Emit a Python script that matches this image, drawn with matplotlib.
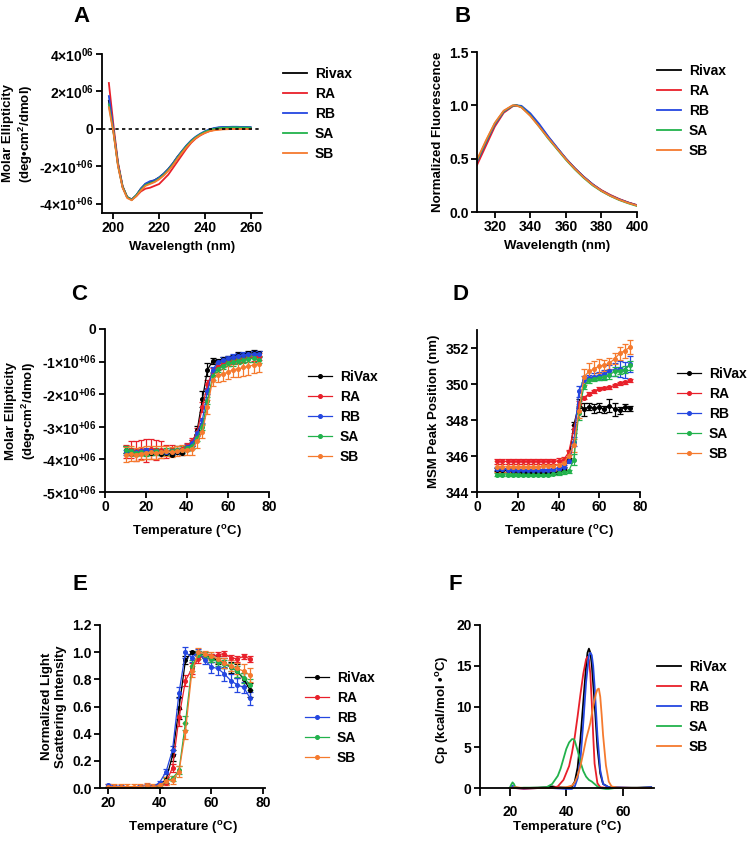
import numpy as np
import matplotlib
matplotlib.use("Agg")
import matplotlib.pyplot as plt

plt.rcParams['font.family'] = ['Liberation Sans', 'DejaVu Sans']
plt.rcParams['font.weight'] = 'bold'
plt.rcParams['axes.labelweight'] = 'bold'
plt.rcParams['mathtext.fontset'] = 'custom'
plt.rcParams['mathtext.rm'] = 'Liberation Sans:bold'
plt.rcParams['mathtext.it'] = 'Liberation Sans:bold'
plt.rcParams['mathtext.bf'] = 'Liberation Sans:bold'
plt.rcParams['mathtext.default'] = 'rm'

# colours of the five constructs
names_cd = ['Rivax', 'RA', 'RB', 'SA', 'SB']
names = ['RiVax', 'RA', 'RB', 'SA', 'SB']
colors = ['#000000', '#e8202a', '#2447e0', '#22b24c', '#f57a2e']

# ---- A: far-UV CD spectra (x1e6 deg cm2/dmol)
wl_a = np.arange(198, 261, 2)
cd_rivax = [1.5, -0.1, -1.9, -3.1, -3.65, -3.78, -3.55, -3.2, -2.95, -2.85, -2.75, -2.6, -2.4, -2.15, -1.85, -1.5,
            -1.2, -0.9, -0.65, -0.45, -0.3, -0.17, -0.06, 0.02, 0.06, 0.08, 0.08, 0.1, 0.09, 0.08, 0.08, 0.07]
cd_ra = [2.45, 0.2, -1.8, -3.05, -3.65, -3.78, -3.6, -3.35, -3.2, -3.15, -3.05, -2.95, -2.7, -2.45, -2.1, -1.75,
         -1.4, -1.05, -0.75, -0.52, -0.35, -0.22, -0.12, -0.06, -0.03, -0.01, 0.0, 0.0, 0.01, 0.01, 0.0, 0.0]
cd_rb = [1.75, -0.05, -1.9, -3.1, -3.65, -3.78, -3.55, -3.2, -2.93, -2.8, -2.75, -2.6, -2.4, -2.15, -1.85, -1.5,
         -1.18, -0.88, -0.62, -0.42, -0.26, -0.13, -0.03, 0.04, 0.08, 0.1, 0.1, 0.11, 0.11, 0.1, 0.1, 0.09]
cd_sa = [1.3, -0.15, -1.95, -3.1, -3.65, -3.8, -3.55, -3.25, -3.0, -2.9, -2.82, -2.65, -2.45, -2.2, -1.9, -1.55,
         -1.22, -0.92, -0.66, -0.45, -0.29, -0.16, -0.07, 0.0, 0.04, 0.06, 0.07, 0.08, 0.08, 0.07, 0.07, 0.06]
cd_sb = [1.15, -0.2, -2.0, -3.15, -3.7, -3.82, -3.6, -3.3, -3.05, -2.95, -2.85, -2.7, -2.5, -2.25, -1.95, -1.6,
         -1.28, -0.98, -0.72, -0.5, -0.34, -0.22, -0.13, -0.08, -0.05, -0.03, -0.02, -0.01, -0.01, -0.01, -0.01, -0.01]

# ---- B: intrinsic fluorescence
wl_b = [310, 315, 320, 325, 330, 332, 335, 340, 345, 350, 355, 360, 365, 370, 375, 380, 385, 390, 395, 400]
fl_rivax = [0.47, 0.65, 0.82, 0.94, 0.995, 1.0, 0.985, 0.91, 0.81, 0.70, 0.60, 0.50, 0.41, 0.33, 0.26, 0.20, 0.155, 0.118, 0.088, 0.062]
fl_ra = [0.44, 0.62, 0.80, 0.93, 0.99, 1.0, 0.99, 0.915, 0.815, 0.705, 0.60, 0.50, 0.41, 0.33, 0.26, 0.205, 0.16, 0.122, 0.09, 0.065]
fl_rb = [0.47, 0.65, 0.82, 0.94, 0.995, 1.0, 0.995, 0.925, 0.825, 0.71, 0.605, 0.50, 0.41, 0.33, 0.26, 0.20, 0.155, 0.118, 0.088, 0.062]
fl_sa = [0.48, 0.66, 0.83, 0.945, 0.997, 1.0, 0.985, 0.905, 0.80, 0.69, 0.59, 0.49, 0.40, 0.32, 0.25, 0.195, 0.15, 0.112, 0.082, 0.056]
fl_sb = [0.49, 0.67, 0.835, 0.95, 1.0, 0.998, 0.98, 0.90, 0.80, 0.695, 0.595, 0.495, 0.405, 0.325, 0.255, 0.198, 0.152, 0.115, 0.085, 0.06]

# ---- C: CD thermal melt at 222 nm (x1e6)
temp_c = np.arange(10, 75.1, 2.5)
me_rivax = [-3.70, -3.82, -3.78, -3.80, -3.78, -3.80, -3.78, -3.82, -3.80, -3.85, -3.78, -3.80, -3.65, -3.50,
            -3.10, -2.15, -1.25, -0.98, -0.97, -0.92, -0.88, -0.85, -0.80, -0.80, -0.75, -0.73, -0.75]
me_ra = [-3.75, -3.70, -3.75, -3.70, -3.72, -3.68, -3.72, -3.70, -3.75, -3.72, -3.70, -3.68, -3.60, -3.45,
         -3.15, -2.40, -1.70, -1.30, -1.15, -1.08, -1.02, -0.98, -0.95, -0.92, -0.90, -0.87, -0.85]
me_rb = [-3.78, -3.75, -3.78, -3.75, -3.72, -3.75, -3.75, -3.78, -3.78, -3.75, -3.75, -3.72, -3.62, -3.50,
         -3.20, -2.80, -1.90, -1.25, -1.02, -0.95, -0.90, -0.85, -0.82, -0.80, -0.78, -0.77, -0.77]
me_sa = [-3.70, -3.75, -3.80, -3.78, -3.80, -3.78, -3.75, -3.78, -3.75, -3.75, -3.70, -3.70, -3.65, -3.58,
         -3.35, -3.00, -2.20, -1.45, -1.22, -1.12, -1.05, -1.02, -0.98, -0.95, -0.92, -0.90, -0.95]
me_sb = [-3.85, -3.82, -3.85, -3.82, -3.80, -3.78, -3.80, -3.78, -3.75, -3.78, -3.75, -3.72, -3.70, -3.68,
         -3.45, -3.15, -2.40, -1.55, -1.42, -1.38, -1.32, -1.25, -1.22, -1.18, -1.15, -1.10, -1.08]
me_err_rivax = [0.1, 0.06, 0.06, 0.06, 0.05, 0.05, 0.06, 0.05, 0.05, 0.05, 0.06, 0.06, 0.06, 0.08,
                0.12, 0.25, 0.2, 0.08, 0.06, 0.06, 0.06, 0.06, 0.08, 0.06, 0.08, 0.08, 0.08]
me_err_ra = [0.2, 0.25, 0.3, 0.3, 0.35, 0.3, 0.3, 0.25, 0.2, 0.15, 0.1, 0.1, 0.1, 0.1,
             0.1, 0.15, 0.15, 0.1, 0.1, 0.1, 0.1, 0.1, 0.1, 0.1, 0.1, 0.1, 0.1]
me_err_rb = [0.08] * 27
me_err_sa = [0.1] * 27
me_err_sb = [0.22, 0.22, 0.2, 0.2, 0.2, 0.2, 0.2, 0.18, 0.15, 0.15, 0.15, 0.15, 0.15, 0.18,
             0.2, 0.2, 0.22, 0.2, 0.2, 0.22, 0.22, 0.22, 0.25, 0.25, 0.25, 0.25, 0.25]

# ---- D: MSM peak position (nm)
temp_d = np.arange(10, 75.1, 2.5)
pk_rivax = [345.25, 345.22, 345.2, 345.18, 345.15, 345.12, 345.1, 345.08, 345.05, 345.05, 345.05, 345.08, 345.1, 345.3,
            345.8, 347.7, 348.9, 348.6, 348.75, 348.65, 348.7, 348.6, 348.8, 348.6, 348.55, 348.7, 348.65]
pk_ra = [345.7, 345.7, 345.7, 345.7, 345.7, 345.7, 345.7, 345.7, 345.7, 345.7, 345.7, 345.7, 345.72, 345.8,
         346.2, 347.5, 348.9, 349.25, 349.45, 349.6, 349.75, 349.78, 349.82, 349.92, 350.05, 350.1, 350.2]
pk_rb = [345.3, 345.28, 345.25, 345.25, 345.22, 345.22, 345.2, 345.2, 345.2, 345.2, 345.22, 345.25, 345.3, 345.4,
         345.7, 346.8, 349.6, 350.25, 350.35, 350.4, 350.45, 350.55, 350.75, 350.8, 350.85, 350.8, 351.1]
pk_sa = [344.95, 344.95, 344.95, 344.95, 344.95, 344.95, 344.95, 344.95, 344.95, 344.95, 344.95, 345.0, 345.05, 345.1,
         345.15, 345.8, 348.4, 349.9, 350.2, 350.3, 350.35, 350.4, 350.5, 350.7, 350.75, 350.8, 351.05]
pk_sb = [345.4, 345.4, 345.4, 345.4, 345.4, 345.4, 345.4, 345.4, 345.4, 345.42, 345.45, 345.45, 345.5, 345.6,
         346.0, 346.6, 348.5, 350.4, 350.7, 350.85, 351.0, 351.05, 351.15, 351.4, 351.7, 351.85, 352.05]
pk_err_rivax = [0.1] * 15 + [0.2, 0.25, 0.35, 0.2, 0.25, 0.25, 0.2, 0.35, 0.35, 0.2, 0.2, 0.15]
pk_err_ra = [0.15] * 15 + [0.2, 0.15, 0.1, 0.08, 0.08, 0.08, 0.08, 0.08, 0.08, 0.08, 0.08, 0.1]
pk_err_rb = [0.08] * 15 + [0.25, 0.3, 0.2, 0.15, 0.2, 0.2, 0.25, 0.3, 0.35, 0.45, 0.45, 0.45]
pk_err_sa = [0.08] * 15 + [0.3, 0.4, 0.2, 0.15, 0.15, 0.15, 0.2, 0.2, 0.25, 0.2, 0.2, 0.25]
pk_err_sb = [0.3] * 15 + [0.35, 0.4, 0.45, 0.45, 0.45, 0.4, 0.3, 0.3, 0.3, 0.35, 0.4, 0.4]

# ---- E: static light scattering
temp_e = np.arange(20, 75.1, 2.5)
ls_rivax = [0, 0, 0, 0, 0, 0, 0, 0.01, 0.02, 0.06, 0.24, 0.59, 0.94, 1.0, 0.99, 0.98, 0.96, 0.94, 0.92, 0.89, 0.86, 0.80, 0.72]
ls_ra = [0, 0, 0, 0, 0, 0, 0, 0.01, 0.01, 0.04, 0.15, 0.52, 0.79, 0.88, 0.95, 0.98, 0.97, 0.98, 0.99, 0.96, 0.95, 0.97, 0.95]
ls_rb = [0.02, 0.01, 0.01, 0, 0, 0.01, 0.02, 0.01, 0.04, 0.12, 0.28, 0.70, 1.0, 0.96, 1.0, 0.94, 0.89, 0.88, 0.84, 0.79, 0.76, 0.74, 0.66]
ls_sa = [0, 0, 0, 0, 0, 0, 0, 0, 0.01, 0.05, 0.07, 0.13, 0.48, 0.90, 0.98, 0.98, 0.95, 0.93, 0.91, 0.89, 0.86, 0.81, 0.76]
ls_sb = [0.01, 0.01, 0.01, 0.01, 0.01, 0.01, 0.02, 0.01, 0.02, 0.05, 0.06, 0.12, 0.42, 0.86, 1.0, 0.99, 0.97, 0.95, 0.92, 0.90, 0.88, 0.86, 0.83]
ls_err_rivax = [0.01] * 9 + [0.02, 0.04, 0.08, 0.03, 0.01, 0.02, 0.02, 0.03, 0.03, 0.04, 0.04, 0.05, 0.05, 0.05]
ls_err_ra = [0.01] * 9 + [0.02, 0.03, 0.06, 0.04, 0.04, 0.03, 0.02, 0.02, 0.02, 0.02, 0.02, 0.02, 0.02, 0.02]
ls_err_rb = [0.01] * 9 + [0.02, 0.03, 0.04, 0.04, 0.03, 0.02, 0.03, 0.04, 0.05, 0.05, 0.05, 0.05, 0.04, 0.05]
ls_err_sa = [0.01] * 9 + [0.02, 0.02, 0.03, 0.05, 0.04, 0.03, 0.02, 0.02, 0.03, 0.03, 0.03, 0.04, 0.04, 0.04]
ls_err_sb = [0.02] * 9 + [0.03, 0.03, 0.04, 0.06, 0.04, 0.03, 0.02, 0.03, 0.03, 0.04, 0.04, 0.04, 0.05, 0.05]

# ---- F: DSC thermograms (kcal/mol/degC)
t_rivax = [20, 21, 22, 25, 30, 33, 35, 37, 40, 42, 43, 44, 45, 46, 47, 47.5, 48, 48.5, 49, 50, 51, 52, 53, 55, 60, 65, 70]
cp_rivax = [0, 0.2, 0.05, 0, 0.05, 0.1, 0.2, 0.1, 0.05, 0.2, 0.8, 2.5, 6.0, 10.5, 15.0, 16.6, 17.1, 16.6, 15.2, 10.5, 5.0, 1.8, 0.5, 0.1, 0.05, 0.05, 0.1]
t_ra = [20, 22, 25, 30, 35, 37, 39, 41, 42, 43, 44, 45, 46, 47, 47.5, 48, 48.5, 49, 49.5, 50, 51, 52, 55, 60, 65, 70]
cp_ra = [0, 0, -0.1, 0, 0, 0.2, 1.0, 2.7, 4.3, 6.3, 8.8, 11.5, 14.0, 15.8, 16.1, 15.7, 14.0, 10.5, 6.5, 3.0, 0.6, 0.1, 0, 0.05, 0, 0]
t_rb = [20, 21, 22, 25, 30, 35, 40, 42, 43, 44, 45, 46, 47, 48, 48.5, 49, 49.5, 50, 51, 52, 53, 55, 60, 65, 70]
cp_rb = [0, 0.3, 0, -0.05, 0, 0, -0.1, -0.1, 0.2, 1.2, 3.5, 8.0, 13.0, 16.3, 16.6, 16.3, 15.0, 12.5, 6.5, 2.2, 0.5, 0.1, 0.05, 0, 0.1]
t_sa = [20, 20.5, 21, 21.5, 22, 23, 25, 30, 33, 35, 37, 38, 39, 40, 41, 42, 42.5, 43, 44, 45, 46, 47, 48, 49, 50, 51, 52, 54, 55, 57, 60, 65, 70]
cp_sa = [0, 0.4, 0.7, 0.5, 0.1, 0, 0.05, 0.05, 0.1, 0.5, 1.5, 2.4, 3.6, 4.8, 5.6, 6.0, 6.0, 5.8, 4.6, 3.2, 2.1, 1.4, 1.0, 0.8, 0.5, 0.2, 0.0, -0.1, -0.1, 0, 0, 0, 0]
t_sb = [20, 22, 25, 30, 35, 40, 42, 43, 44, 45, 46, 47, 48, 48.5, 49, 49.5, 50, 50.5, 51, 51.5, 52, 52.5, 53, 54, 55, 56, 58, 60, 65, 70]
cp_sb = [0, 0.1, 0, 0, 0, 0.1, 0.3, 0.7, 1.5, 2.7, 4.3, 6.0, 7.3, 8.0, 9.0, 10.0, 10.8, 11.6, 12.1, 12.2, 11.2, 9.0, 6.5, 2.8, 0.8, 0.2, 0.05, 0, 0, 0]

W, H = 754, 842
fig = plt.figure(figsize=(7.54, 8.42), dpi=100)


def make_ax(l, t, r, b):
    ax = fig.add_axes([l / W, 1 - b / H, (r - l) / W, (b - t) / H])
    for s in ['top', 'right']:
        ax.spines[s].set_visible(False)
    for s in ['left', 'bottom']:
        ax.spines[s].set_linewidth(1.3)
    ax.tick_params(direction='out', length=4, width=1.3, labelsize=10, pad=2)
    return ax


def legend(ax, handles, labels, x, yc):
    ax.legend(handles, labels, loc='center left', bbox_to_anchor=(x / W, 1 - yc / H),
              bbox_transform=fig.transFigure, frameon=False, borderpad=0, borderaxespad=0,
              handlelength=1.7, handletextpad=0.6, labelspacing=0.42,
              prop={'size': 10, 'weight': 'bold'})


def sci(v, plus):
    if v == 0:
        return '0'
    m = int(round(v / 1e6))
    return '%d×10$^{%s06}$' % (m, '+' if plus else '')


# A
ax = make_ax(102, 54, 262, 213)
hs = []
for ys, c in zip([cd_rivax, cd_ra, cd_rb, cd_sa, cd_sb], colors):
    hs.append(ax.plot(wl_a, np.array(ys) * 1e6, color=c, lw=1.3)[0])
ax.axhline(0, color='black', lw=1.2, ls=(0, (2, 2)))
ax.set_xlim(195, 265)
ax.set_ylim(-4.5e6, 4e6)
ax.set_xticks([200, 220, 240, 260])
yt = [-4e6, -2e6, 0, 2e6, 4e6]
ax.set_yticks(yt)
ax.set_yticklabels([sci(v, v < 0) for v in yt])
ax.set_xlabel('Wavelength (nm)', fontsize=9.5, labelpad=4)
ax.set_ylabel('Molar Ellipticity\n(deg•cm$^2$/dmol)', fontsize=9.5, labelpad=3)
legend(ax, hs, names_cd, 283, 114)

# B
ax = make_ax(477, 52, 637, 212)
hs = []
for ys, c in zip([fl_rivax, fl_ra, fl_rb, fl_sa, fl_sb], colors):
    hs.append(ax.plot(wl_b, ys, color=c, lw=1.3)[0])
ax.set_xlim(310, 400)
ax.set_ylim(0, 1.5)
ax.set_xticks([320, 340, 360, 380, 400])
ax.set_yticks([0, 0.5, 1.0, 1.5])
ax.yaxis.set_major_formatter(matplotlib.ticker.FormatStrFormatter('%.1f'))
ax.set_xlabel('Wavelength (nm)', fontsize=9.5, labelpad=4)
ax.set_ylabel('Normalized Fluorescence', fontsize=9.5, labelpad=4)
legend(ax, hs, names_cd, 657, 111)


def err_panel(ax, x, series, errs, scale=1.0):
    hs = []
    for ys, es, c in zip(series, errs, colors):
        eb = ax.errorbar(x, np.array(ys) * scale, yerr=np.array(es) * scale, color=c, lw=0.9,
                         marker='o', ms=2.6, capsize=2, elinewidth=0.9, capthick=0.9)
        hs.append(eb[0])
    return hs


# C
ax = make_ax(105, 329, 269, 492)
hs = err_panel(ax, temp_c, [me_rivax, me_ra, me_rb, me_sa, me_sb],
               [me_err_rivax, me_err_ra, me_err_rb, me_err_sa, me_err_sb], 1e6)
ax.set_xlim(0, 80)
ax.set_ylim(-5e6, 0)
ax.set_xticks([0, 20, 40, 60, 80])
yt = [-5e6, -4e6, -3e6, -2e6, -1e6, 0]
ax.set_yticks(yt)
ax.set_yticklabels([sci(v, True) for v in yt])
ax.set_xlabel('Temperature ($^{o}$C)', fontsize=9.5, labelpad=6)
ax.set_ylabel('Molar Ellipticity\n(deg•cm$^2$/dmol)', fontsize=9.5, labelpad=3)
legend(ax, hs, names, 308, 417)

# D
ax = make_ax(477, 330, 640, 492)
hs = err_panel(ax, temp_d, [pk_rivax, pk_ra, pk_rb, pk_sa, pk_sb],
               [pk_err_rivax, pk_err_ra, pk_err_rb, pk_err_sa, pk_err_sb])
ax.set_xlim(0, 80)
ax.set_ylim(344, 353)
ax.set_xticks([0, 20, 40, 60, 80])
ax.set_yticks([344, 346, 348, 350, 352])
ax.set_xlabel('Temperature ($^{o}$C)', fontsize=9.5, labelpad=6)
ax.set_ylabel('MSM Peak Position (nm)', fontsize=9.5, labelpad=4)
legend(ax, hs, names, 677, 414)

# E
ax = make_ax(100, 625, 265, 788)
hs = err_panel(ax, temp_e, [ls_rivax, ls_ra, ls_rb, ls_sa, ls_sb],
               [ls_err_rivax, ls_err_ra, ls_err_rb, ls_err_sa, ls_err_sb])
ax.set_xlim(17, 80.7)
ax.set_ylim(0, 1.2)
ax.set_xticks([20, 40, 60, 80])
ax.set_yticks([0, 0.2, 0.4, 0.6, 0.8, 1.0, 1.2])
ax.yaxis.set_major_formatter(matplotlib.ticker.FormatStrFormatter('%.1f'))
ax.set_xlabel('Temperature ($^{o}$C)', fontsize=9.5, labelpad=6)
ax.set_ylabel('Normalized Light\nScattering Intensity', fontsize=9.5, labelpad=4)
legend(ax, hs, names, 305, 718)

# F
ax = make_ax(480, 625, 654, 795)
hs = []
for xs, ys, c in zip([t_rivax, t_ra, t_rb, t_sa, t_sb], [cp_rivax, cp_ra, cp_rb, cp_sa, cp_sb], colors):
    hs.append(ax.plot(xs, ys, color=c, lw=1.3)[0])
ax.set_xlim(9.5, 71)
ax.set_ylim(-0.85, 20)
ax.spines['bottom'].set_position(('data', 0))
ax.set_xticks([20, 40, 60])
ax.set_yticks([0, 5, 10, 15, 20])
ax.tick_params(axis='x', length=6, pad=6)
ax.set_xlabel('Temperature ($^{o}$C)', fontsize=9.5, labelpad=0.5)
ax.set_ylabel('Cp (kcal/mol •$^{o}$C)', fontsize=9.5, labelpad=4)
legend(ax, hs, names, 657, 707)

for lab, x, y in [('A', 82, 17), ('B', 463, 17), ('C', 79, 295), ('D', 460, 295), ('E', 80, 585), ('F', 455, 585)]:
    fig.text(x / W, 1 - y / H, lab, fontsize=16, fontweight='bold', ha='center', va='center')

fig.savefig('out.png', dpi=100)
